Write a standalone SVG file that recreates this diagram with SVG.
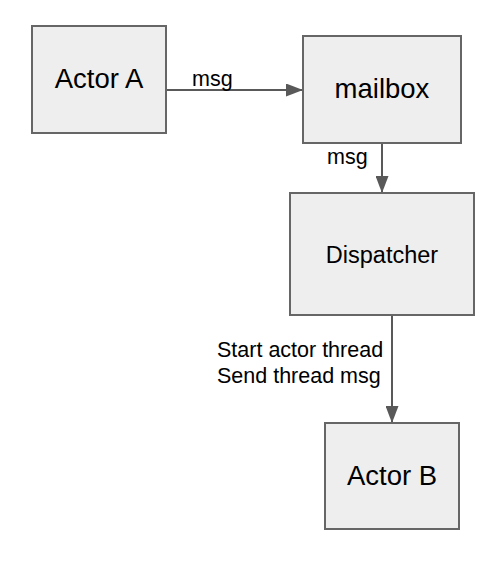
<svg xmlns="http://www.w3.org/2000/svg" width="500" height="562" viewBox="0 0 500 562">
<style>
.box{fill:#eeeeee;stroke:#666666;stroke-width:2}
.big{font-family:"Liberation Sans",Arial,sans-serif;font-size:27.5px;fill:#000;text-anchor:middle}
.mid{font-family:"Liberation Sans",Arial,sans-serif;font-size:23.5px;fill:#000;text-anchor:middle}
.lbl{font-family:"Liberation Sans",Arial,sans-serif;font-size:21.5px;fill:#000}
.edge{stroke:#595959;stroke-width:2;fill:none}
</style>
<defs>
<marker id="arr" markerUnits="userSpaceOnUse" markerWidth="17" markerHeight="13" refX="17" refY="6.5" orient="auto">
<path d="M0,0 L17,6.5 L0,13 Z" fill="#595959"/>
</marker>
</defs>
<rect width="500" height="562" fill="#ffffff"/>
<g id="connectors">
<line class="edge" x1="166" y1="90" x2="303" y2="90" marker-end="url(#arr)"/>
<text class="lbl" x="192" y="86">msg</text>
<line class="edge" x1="382" y1="143" x2="382" y2="193" marker-end="url(#arr)"/>
<text class="lbl" x="327" y="164">msg</text>
<line class="edge" x1="392" y1="315" x2="392" y2="423" marker-end="url(#arr)"/>
<text class="lbl" x="217" y="357">Start actor thread</text>
<text class="lbl" x="217" y="383">Send thread msg</text>
</g>
<g id="actorA">
<rect class="box" x="32" y="26" width="134" height="107"/>
<text class="big" x="99" y="88">Actor A</text>
</g>
<g id="mailbox">
<rect class="box" x="303" y="36" width="158" height="107"/>
<text class="big" x="382" y="98">mailbox</text>
</g>
<g id="dispatcher">
<rect class="box" x="290" y="193" width="184" height="122"/>
<text class="mid" x="382" y="263">Dispatcher</text>
</g>
<g id="actorB">
<rect class="box" x="325" y="423" width="134" height="106"/>
<text class="big" x="392" y="485">Actor B</text>
</g>
</svg>
